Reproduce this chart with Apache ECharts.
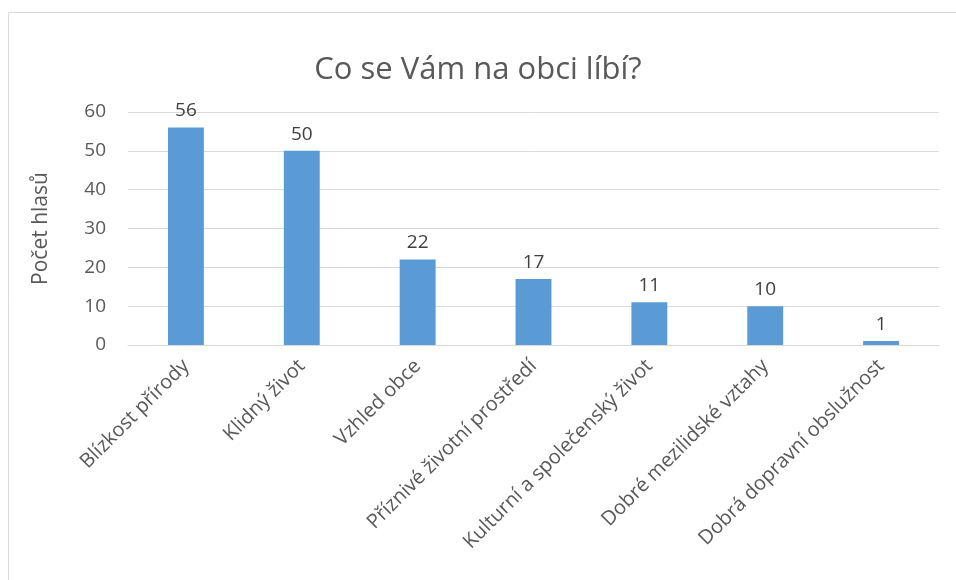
<!DOCTYPE html>
<html>
<head>
<meta charset="utf-8">
<script src="https://cdn.jsdelivr.net/npm/echarts@6/dist/echarts.min.js"></script>
<style>
  html, body { margin: 0; padding: 0; background: #fff; }
  #chart { width: 956px; height: 580px; }
</style>
</head>
<body>
<div id="chart"></div>
<script>
const categories = [
  'Blízkost přírody',
  'Klidný život',
  'Vzhled obce',
  'Příznivé životní prostředí',
  'Kulturní a společenský život',
  'Dobré mezilidské vztahy',
  'Dobrá dopravní obslužnost'
]
const votes = [56, 50, 22, 17, 11, 10, 1]
const yTicks = { min: 0, max: 60, interval: 10 }

const fontFamily = '"Open Sans", "Liberation Sans", sans-serif'
const chart = echarts.init(document.getElementById('chart'))

chart.setOption({
  animation: false,
  textStyle: { fontFamily: fontFamily, color: '#595959' },
  title: {
    text: 'Co se Vám na obci líbí?',
    left: 'center',
    top: 50,
    textStyle: { fontSize: 31, fontWeight: 'normal', color: '#595959', fontFamily: fontFamily }
  },
  graphic: [{
    type: 'rect',
    shape: { x: 8.5, y: 12.5, width: 960, height: 600 },
    style: { fill: 'none', stroke: '#d9d9d9', lineWidth: 1 },
    silent: true
  }],
  grid: { left: 128, right: 17, top: 112, bottom: 235 },
  xAxis: {
    type: 'category',
    data: categories,
    axisLine: { lineStyle: { color: '#d9d9d9', width: 1 } },
    axisTick: { show: false },
    axisLabel: {
      rotate: 45,
      interval: 0,
      margin: 18,
      fontSize: 20,
      color: '#595959',
      fontFamily: fontFamily
    }
  },
  yAxis: {
    type: 'value',
    min: yTicks.min,
    max: yTicks.max,
    interval: yTicks.interval,
    name: 'Počet hlasů',
    nameLocation: 'middle',
    nameGap: 76,
    nameTextStyle: { fontSize: 21, color: '#595959', fontFamily: fontFamily },
    axisLine: { show: false },
    axisTick: { show: false },
    axisLabel: { fontSize: 19, color: '#595959', margin: 22, fontFamily: fontFamily },
    splitLine: { lineStyle: { color: '#d9d9d9', width: 1 } }
  },
  series: [{
    type: 'bar',
    data: votes,
    barWidth: '31%',
    itemStyle: { color: '#5b9bd5' },
    label: {
      show: true,
      position: 'top',
      distance: 7,
      fontSize: 19,
      color: '#404040',
      fontFamily: fontFamily
    }
  }]
})
</script>
</body>
</html>
